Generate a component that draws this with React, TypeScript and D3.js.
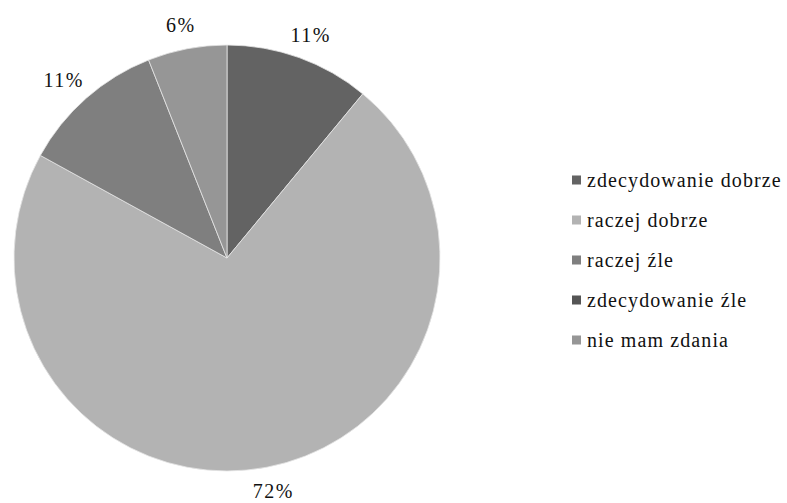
import React from "react";
import * as d3 from "d3";

const categories = [
  "zdecydowanie dobrze",
  "raczej dobrze",
  "raczej źle",
  "zdecydowanie źle",
  "nie mam zdania",
];
const shares = [11, 72, 11, 0, 6];
const colors = ["#636363", "#b3b3b3", "#7f7f7f", "#555555", "#969696"];

const W = 787;
const H = 503;
const cx = 227;
const cy = 258;
const radius = 213;
const FONT = "Liberation Serif";

type Slice = { name: string; value: number; color: string };

export default function App() {
  const data: Slice[] = categories.map((name, i) => ({
    name,
    value: shares[i],
    color: colors[i],
  }));

  const pie = d3
    .pie<Slice>()
    .sort(null)
    .value((d) => d.value);
  const arcs = pie(data);
  const arc = d3.arc<d3.PieArcDatum<Slice>>().innerRadius(0).outerRadius(radius);

  // outside-end percentage labels, pushed out by half the label box
  const labelW = 40;
  const labelH = 20;
  const labelR = radius + 14;

  const legendY = d3
    .scalePoint<string>()
    .domain(categories)
    .range([180, 340]);

  return (
    <div style={{ position: "fixed", left: 0, top: 0 }}>
      <svg width={W} height={H} style={{ display: "block", background: "#fff" }}>
        <g transform={`translate(${cx},${cy})`}>
          {arcs.map((a, i) =>
            a.value > 0 ? (
              <path
                key={i}
                d={arc(a) || ""}
                fill={a.data.color}
                stroke="#e6e6e6"
                strokeWidth={0.8}
              />
            ) : null
          )}
          {arcs.map((a, i) => {
            if (a.value <= 0) return null;
            const mid = (a.startAngle + a.endAngle) / 2;
            const ux = Math.sin(mid);
            const uy = -Math.cos(mid);
            const x = labelR * ux + (ux * labelW) / 2;
            const y = labelR * uy + (uy * labelH) / 2;
            return (
              <text
                key={i}
                x={x}
                y={y}
                textAnchor="middle"
                dominantBaseline="central"
                style={{ fontFamily: FONT, fontSize: "20px", letterSpacing: "1.5px" }}
                fill="#111"
              >
                {`${a.data.value}%`}
              </text>
            );
          })}
        </g>
        <g>
          {data.map((d) => {
            const y = legendY(d.name) as number;
            return (
              <g key={d.name}>
                <rect x={572} y={y - 4.5} width={9} height={9} fill={d.color} />
                <text
                  x={587}
                  y={y}
                  dominantBaseline="central"
                  style={{ fontFamily: FONT, fontSize: "20px", letterSpacing: "1.1px" }}
                  fill="#111"
                >
                  {d.name}
                </text>
              </g>
            );
          })}
        </g>
      </svg>
    </div>
  );
}
